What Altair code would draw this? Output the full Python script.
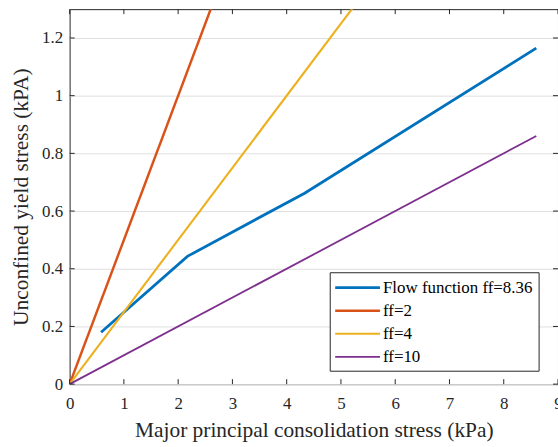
import altair as alt
import pandas as pd

# ---------------- data ----------------
names = ["Flow function ff=8.36", "ff=2", "ff=4", "ff=10"]
colors = ["#0072BD", "#D95319", "#EDB120", "#7E2F8E"]
line_widths = [2.8, 1.8, 1.8, 1.8]

x_flow = [0.58, 2.17, 4.33, 8.6]
y_flow = [0.18, 0.443, 0.662, 1.165]
x_ff = [0.0, 8.6]
y_ff2 = [0.0, 4.3]
y_ff4 = [0.0, 2.15]
y_ff10 = [0.0, 0.86]

x_ticks = [0, 1, 2, 3, 4, 5, 6, 7, 8, 9]
y_ticks = [0, 0.2, 0.4, 0.6, 0.8, 1.0, 1.2]

x_title = "Major principal consolidation stress (kPa)"
y_title = "Unconfined yield stress (kPA)"

# ---------------- layout ----------------
W, H = 491, 377
FONT = "Liberation Serif"
AX = "#262626"

rows = []
for xs_, ys_, nm in [(x_flow, y_flow, names[0]), (x_ff, y_ff2, names[1]),
                     (x_ff, y_ff4, names[2]), (x_ff, y_ff10, names[3])]:
    for a, b in zip(xs_, ys_):
        rows.append({"series": nm, "x": a, "y": b})
df = pd.DataFrame(rows)

xs = alt.Scale(domain=[0, 9], nice=False, zero=False)
ys = alt.Scale(domain=[0, 1.3], nice=False, zero=False)
cs = alt.Scale(domain=names, range=colors)
ws = alt.Scale(domain=names, range=line_widths)

ax_x = alt.Axis(values=x_ticks, title=x_title, grid=False, ticks=False, domain=False,
                labelPadding=11, titlePadding=9, labelFlush=False)
ax_y = alt.Axis(values=y_ticks, title=y_title, grid=True, ticks=False, domain=False,
                labelPadding=7, titlePadding=9,
                labelExpr="format(datum.value, '~g')")

lines = alt.Chart(df).mark_line(clip=True).encode(
    x=alt.X("x:Q", scale=xs, axis=ax_x),
    y=alt.Y("y:Q", scale=ys, axis=ax_y),
    color=alt.Color("series:N", scale=cs, legend=None),
    strokeWidth=alt.StrokeWidth("series:N", scale=ws, legend=None),
)

tx = pd.DataFrame({"t": x_ticks})
ty = pd.DataFrame({"t": y_ticks})
tick_b = alt.Chart(tx).mark_rule(color=AX, strokeWidth=1).encode(
    x=alt.X("t:Q", scale=xs, axis=ax_x), y=alt.value(H), y2=alt.value(H - 5))
tick_t = alt.Chart(tx).mark_rule(color=AX, strokeWidth=1).encode(
    x=alt.X("t:Q", scale=xs, axis=ax_x), y=alt.value(0), y2=alt.value(5))
tick_l = alt.Chart(ty).mark_rule(color=AX, strokeWidth=1).encode(
    y=alt.Y("t:Q", scale=ys, axis=ax_y), x=alt.value(0), x2=alt.value(5))
tick_r = alt.Chart(ty).mark_rule(color=AX, strokeWidth=1).encode(
    y=alt.Y("t:Q", scale=ys, axis=ax_y), x=alt.value(W - 5), x2=alt.value(W))

plot = alt.layer(lines, tick_b, tick_t, tick_l, tick_r)

# ---------------- legend (manual) ----------------
leg_df = pd.DataFrame({"series": names})
ly = alt.Scale(type="point", domain=names, range=[280, 349.5], padding=0)
box = alt.Chart(pd.DataFrame({"a": [0]})).mark_rect(
    fill="white", stroke="#262626", strokeWidth=1).encode(
    x=alt.value(262), x2=alt.value(472), y=alt.value(265), y2=alt.value(364))
leg_lines = alt.Chart(leg_df).mark_rule().encode(
    x=alt.value(267), x2=alt.value(312),
    y=alt.Y("series:N", scale=ly, axis=None),
    color=alt.Color("series:N", scale=cs, legend=None),
    strokeWidth=alt.StrokeWidth("series:N", scale=ws, legend=None),
)
leg_text = alt.Chart(leg_df).mark_text(
    align="left", baseline="middle", font=FONT, fontSize=17, color="black").encode(
    x=alt.value(315),
    y=alt.Y("series:N", scale=ly, axis=None),
    text="series:N",
)
legend = alt.layer(box, leg_lines, leg_text)

chart = alt.layer(plot, legend).resolve_scale(y="independent").properties(
    width=W, height=H,
    autosize=alt.AutoSizeParams(type="none"),
    padding={"left": 70, "top": 8, "right": 0, "bottom": 62},
).configure_view(
    stroke=AX, strokeWidth=1
).configure_axis(
    labelFont=FONT, titleFont=FONT, labelFontSize=17, titleFontSize=21.5,
    labelColor=AX, titleColor=AX, titleFontWeight="normal",
    gridColor="#dfdfdf", gridWidth=1,
)

chart.save("out.html", embed_options={"renderer": "svg", "actions": False})
